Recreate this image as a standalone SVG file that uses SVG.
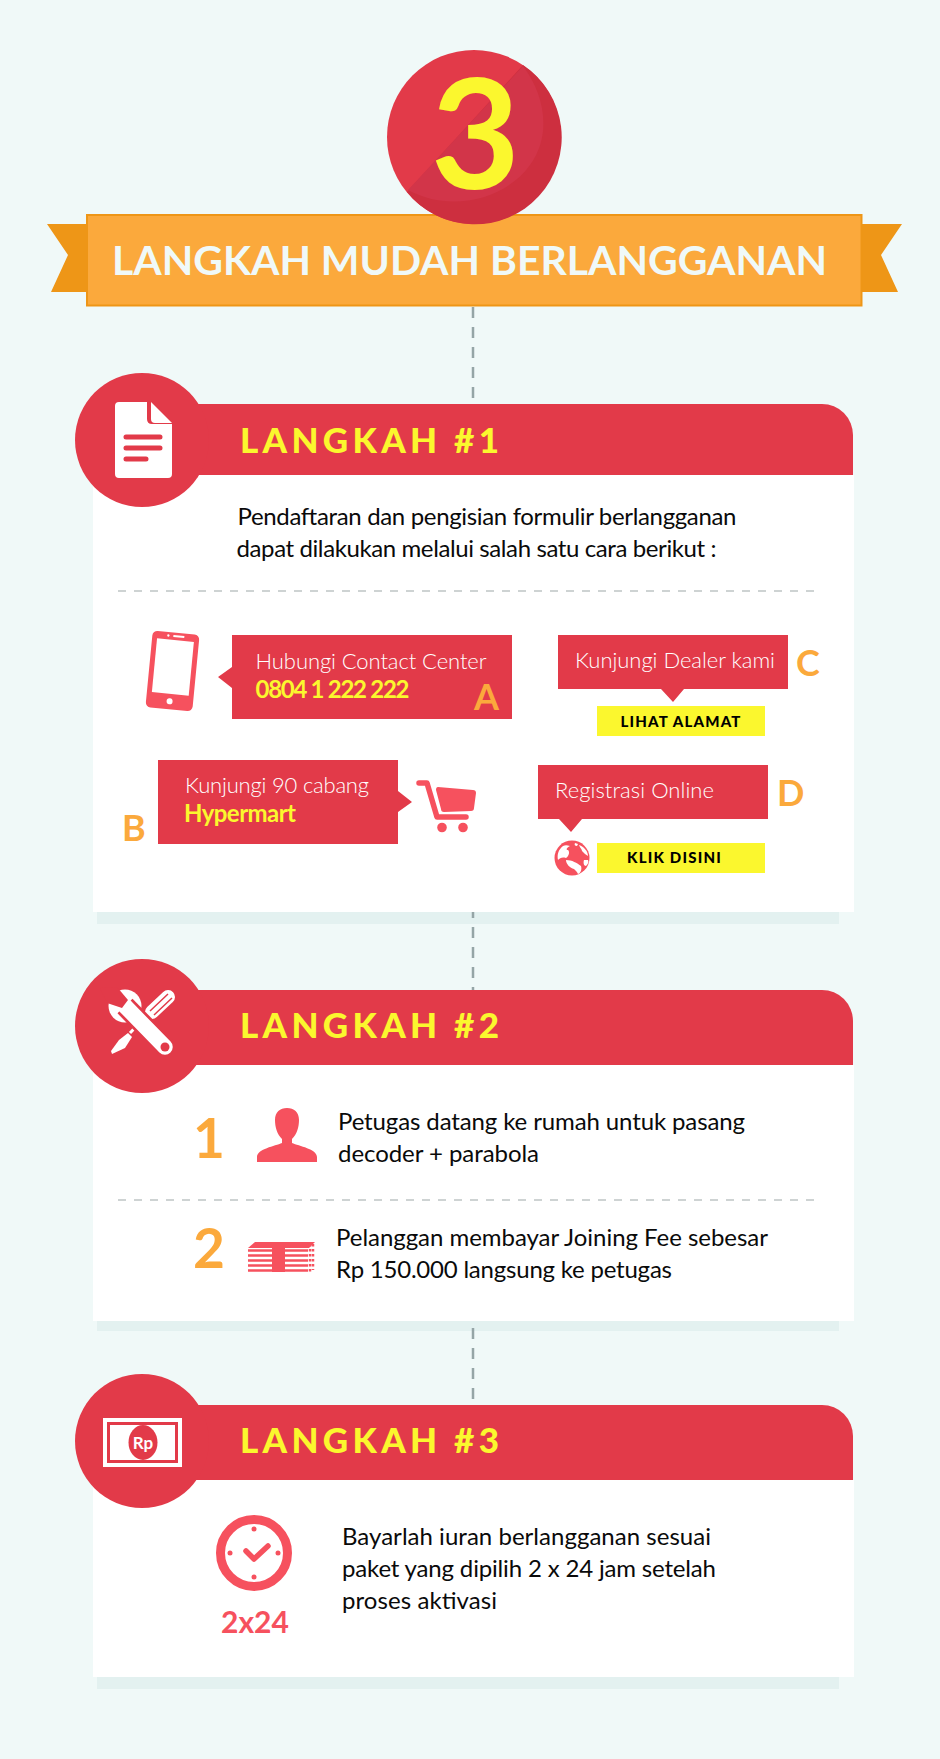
<svg xmlns="http://www.w3.org/2000/svg" width="940" height="1759" viewBox="0 0 940 1759">
<style>
text{font-family:Lato,"Liberation Sans",sans-serif}
.red{fill:#e23a49}.ico{fill:#f6515e}.shadow{fill:#e3f1f0}.card{fill:#fff}
.step{font-size:35px;font-weight:900;fill:#fbf72e}
.body{font-size:24px;fill:#0a0a0a}
.light{font-size:22px;font-weight:300;fill:#fff}
.hl{font-size:24px;font-weight:700;fill:#fbf72e}
.letter{font-size:36px;font-weight:700;fill:#fba93c}
.num{font-size:55px;font-weight:700;fill:#fba93c}
.btn{fill:#fbf72e}.btnt{font-size:15px;font-weight:900;fill:#000;letter-spacing:1.2px}
.dash{stroke:#bfc5c5;stroke-width:1.500;stroke-dasharray:8 8;fill:none}
.conn{stroke:#95a5a6;stroke-width:2.500;stroke-dasharray:11 9;fill:none}
.wln{stroke:#e23a49;stroke-width:5;stroke-linecap:round;fill:none}
</style>
<rect width="940" height="1759" fill="#f0f9f8"/>
<g id="banner">
<polygon points="47,224 87,224 87,292 51,292 68,255" fill="#ee9617"/>
<polygon points="861,224 902,224 881,255 898,292 861,292" fill="#ee9617"/>
<rect x="87" y="215" width="774.500" height="90.500" fill="#fba93c" stroke="#ee9617" stroke-width="2"/>
<text x="112" y="275" font-size="40" font-weight="700" fill="#f0f9f8" textLength="715" lengthAdjust="spacingAndGlyphs">LANGKAH MUDAH BERLANGGANAN</text>
</g>
<g id="badge">
<circle cx="474" cy="137" r="87" fill="#e23a49"/>
<path d="M523 65A87 87 0 1 1 407 192L523 65Z" fill="#cd2f3f"/>
<path d="M523 66C545 95 552 135 530 165C505 200 450 213 408 190Z" fill="#d23549"/>
<text x="475.500" y="188.500" text-anchor="middle" font-size="154" font-weight="700" fill="#fbf72e">3</text>
</g>
<g id="step1">
<rect x="97" y="500" width="742" height="424" class="shadow"/>
<rect x="93" y="475" width="761" height="437" class="card"/>
<path class="red" d="M93 404H822A31 31 0 0 1 853 435V475H93Z"/>
<circle cx="142" cy="440" r="67" class="red"/>
<g id="icon-doc" fill="#fff">
<path d="M119 402H147V419Q147 424 152 424H172V474Q172 478 168 478H119Q115 478 115 474V406Q115 402 119 402Z"/>
<path d="M151 402L172 423H155Q151 423 151 419Z"/>
<path class="wln" d="M126 437H160M126 448H160M126 459H146"/>
</g>
<text class="step" x="240" y="453" textLength="259">LANGKAH #1</text>
<text class="body" x="237.500" y="525" textLength="499">Pendaftaran dan pengisian formulir berlangganan</text>
<text class="body" x="236.500" y="557" textLength="480">dapat dilakukan melalui salah satu cara berikut :</text>
<path class="dash" d="M118 591H815"/>
</g>
<g id="phone">
<g transform="rotate(5.500 172.500 671)">
<rect x="149" y="632.500" width="47" height="77" rx="5" class="ico"/>
<rect x="154" y="640" width="37" height="54" fill="#fff"/>
<circle cx="172.500" cy="701.500" r="3" fill="#fff"/>
<rect x="170" y="635" width="11" height="2" fill="#fff"/>
<circle cx="165" cy="636" r="1.200" fill="#fff"/>
</g>
</g>
<g id="option-a">
<polygon class="red" points="232,635 512,635 512,719 232,719 232,688 218,677 232,667"/>
<text class="light" x="255.500" y="669" textLength="231">Hubungi Contact Center</text>
<text class="hl" x="255.500" y="698" textLength="154">0804 1 222 222</text>
<text class="letter" x="474" y="710">A</text>
</g>
<g id="option-b">
<polygon class="red" points="158,760 398,760 398,791 412,802 398,812 398,844 158,844"/>
<text class="light" x="185" y="793" textLength="184">Kunjungi 90 cabang</text>
<text class="hl" x="184" y="822" textLength="112">Hypermart</text>
<text class="letter" x="122" y="841">B</text>
<g id="icon-cart" class="ico">
<path d="M419 783H427L437 817H466" fill="none" stroke="#f6515e" stroke-width="5.500" stroke-linecap="round" stroke-linejoin="round"/>
<path d="M438 787L473 790Q476 790 476 793L474 808Q474 811 471 811L444 812Q441 812 441 809L436 790Q436 787 438 787Z"/>
<circle cx="442" cy="827.500" r="4.800"/><circle cx="463" cy="827.500" r="4.800"/>
</g>
</g>
<g id="option-c">
<polygon class="red" points="558,635 788,635 788,689 684,689 673,702 661,689 558,689"/>
<text class="light" x="575" y="668" textLength="200">Kunjungi Dealer kami</text>
<text class="letter" x="796" y="676">C</text>
<rect class="btn" x="597" y="706" width="168" height="30"/>
<text class="btnt" x="681" y="727" text-anchor="middle">LIHAT ALAMAT</text>
</g>
<g id="option-d">
<polygon class="red" points="538,765 768,765 768,819 582,819 571,832 559,819 538,819"/>
<text class="light" x="555" y="798" textLength="159">Registrasi Online</text>
<text class="letter" x="777" y="806">D</text>
<g id="icon-globe">
<circle cx="572" cy="858" r="17.500" class="ico"/>
<path fill="#fff" d="M563 846C558 850 557 855 558 860C560 858 562 857 566 858C569 856 570 852 568 850C566 850 566 848 570 846C567 845 565 845 563 846ZM575 843C574 845 575 846 577 846L578 844ZM579 845C580 848 582 849 582 851C584 853 586 855 588 856C588 851 584 847 579 845ZM566 860C566 864 570 868 574 869C577 872 577 872 578 874C581 873 582 869 581 866C577 863 572 860 566 860ZM584 860C583 863 584 866 586 866C588 864 589 862 588 860Z"/>
</g>
<rect class="btn" x="597" y="843" width="168" height="30"/>
<text class="btnt" x="674.500" y="863" text-anchor="middle">KLIK DISINI</text>
</g>
<g id="step2">
<rect x="97" y="1100" width="742" height="231" class="shadow"/>
<rect x="93" y="1065" width="761" height="256" class="card"/>
<path class="red" d="M93 990H822A31 31 0 0 1 853 1021V1065H93Z"/>
<circle cx="142" cy="1026" r="67" class="red"/>
<g id="icon-tools">
<path d="M152 1012L168 997" stroke="#fff" stroke-width="14" stroke-linecap="round"/>
<path d="M150 1011L168 994M154 1015L172 998" stroke="#e23a49" stroke-width="1.500"/>
<path d="M147 1015L130 1033" stroke="#fff" stroke-width="3"/>
<polygon points="128,1033 132,1037 125,1048 112,1054 111,1051 119,1040" fill="#fff"/>
<circle cx="125" cy="1006" r="16.500" fill="#fff"/>
<path d="M125 1006L165 1047" stroke="#e23a49" stroke-width="21"/>
<path d="M125 1006L165 1047" stroke="#fff" stroke-width="15.500" stroke-linecap="round"/>
<polygon points="117,987 128,1000 122,1008 107,1003 100,988" fill="#e23a49"/>
<circle cx="165" cy="1047" r="4.500" fill="#e23a49"/>
</g>
<text class="step" x="240" y="1038" textLength="259">LANGKAH #2</text>
<text class="num" x="193" y="1158">1</text>
<path class="ico" id="icon-person" d="M257 1162V1157C257 1149 275 1146 282 1143V1139C277 1134 275 1127 275 1120C275 1112 280 1108 287 1108S299 1112 299 1120C299 1127 297 1134 292 1139V1143C299 1146 317 1149 317 1157V1162Z"/>
<text class="body" x="338" y="1130" textLength="407">Petugas datang ke rumah untuk pasang</text>
<text class="body" x="338" y="1162" textLength="201">decoder + parabola</text>
<path class="dash" d="M118 1200H815"/>
<text class="num" x="193" y="1268">2</text>
<g id="icon-money" class="ico">
<polygon points="255,1242 272,1242 272,1248 248,1248"/>
<polygon points="285,1242 315,1242 309,1248 285,1248"/>
<rect x="272" y="1242" width="13" height="30"/>
<path d="M248 1250.500H272M285 1250.500H308M248 1255.500H272M285 1255.500H308M248 1260.500H272M285 1260.500H308M248 1265.500H272M285 1265.500H308M248 1270.500H272M285 1270.500H308" stroke="#f6515e" stroke-width="2.500"/>
<path d="M310 1244V1272M313 1244V1270" stroke="#f6515e" stroke-width="2.500" stroke-dasharray="2.500 2.500"/>
</g>
<text class="body" x="336" y="1246" textLength="432">Pelanggan membayar Joining Fee sebesar</text>
<text class="body" x="336" y="1278" textLength="336">Rp 150.000 langsung ke petugas</text>
</g>
<g id="step3">
<rect x="97" y="1500" width="742" height="189" class="shadow"/>
<rect x="93" y="1480" width="761" height="197" class="card"/>
<path class="red" d="M93 1405H822A31 31 0 0 1 853 1436V1480H93Z"/>
<circle cx="142" cy="1441" r="67" class="red"/>
<g id="icon-note">
<rect x="103" y="1418" width="79" height="49" fill="#fff"/>
<rect x="107" y="1422" width="71" height="41" class="red"/>
<rect x="110" y="1425" width="65" height="35" fill="#fff"/>
<ellipse cx="143" cy="1442.500" rx="14.500" ry="17.500" class="red"/>
<text x="143" y="1449" text-anchor="middle" font-size="17" font-weight="700" fill="#fff">Rp</text>
</g>
<text class="step" x="240" y="1453" textLength="259">LANGKAH #3</text>
<g id="icon-clock">
<circle cx="254" cy="1553" r="33.500" fill="#fff" stroke="#f6515e" stroke-width="9"/>
<path d="M246 1551L254 1559L268 1546" fill="none" stroke="#f6515e" stroke-width="5.500" stroke-linecap="round" stroke-linejoin="round"/>
<g class="ico"><circle cx="254" cy="1529" r="2.500"/><circle cx="254" cy="1577" r="2.500"/><circle cx="230" cy="1553" r="2.500"/><circle cx="278" cy="1553" r="2.500"/></g>
</g>
<text x="255" y="1633" text-anchor="middle" font-size="30" font-weight="700" fill="#f6515e">2x24</text>
<text class="body" x="342" y="1545" textLength="369">Bayarlah iuran berlangganan sesuai</text>
<text class="body" x="342" y="1577" textLength="374">paket yang dipilih 2 x 24 jam setelah</text>
<text class="body" x="342" y="1609" textLength="155">proses aktivasi</text>
</g>
<g id="connectors">
<path class="conn" d="M473 307V402"/>
<path class="conn" stroke-dashoffset="5" d="M473 912V990"/>
<path class="conn" d="M473 1328V1400"/>
</g>
</svg>
